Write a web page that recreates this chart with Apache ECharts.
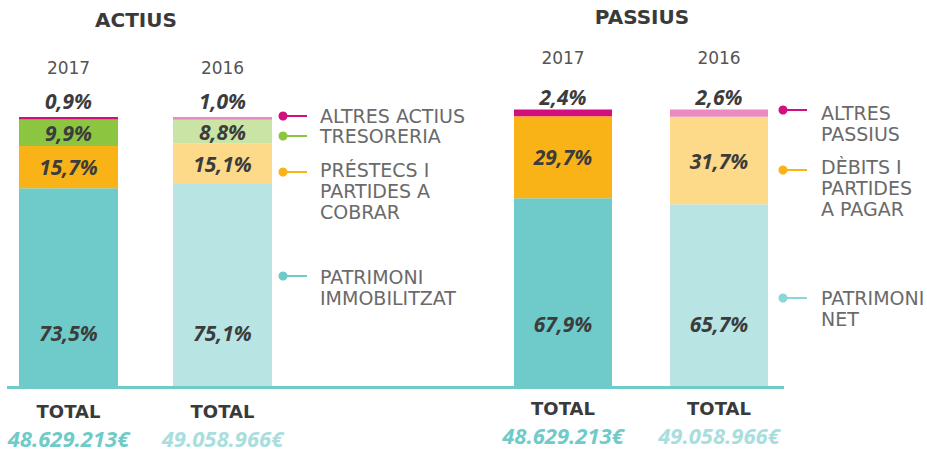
<!DOCTYPE html>
<html><head><meta charset="utf-8">
<script src="https://cdn.jsdelivr.net/npm/echarts@6/dist/echarts.min.js"></script>
<style>html,body{margin:0;padding:0;background:#fff}#c{width:927px;height:452px}</style>
</head><body><div id="c"></div>
<script>
// ---- data ----
const years = ['2017', '2016'];
const actiusTotals = ['48.629.213€', '49.058.966€'];
const passiusTotals = ['48.629.213€', '49.058.966€'];
const actiusPatrimoni = [73.5, 75.1];
const actiusPrestecs = [15.7, 15.1];
const actiusTresoreria = [9.9, 8.8];
const actiusAltres = [0.9, 1.0];
const passiusPatrimoni = [67.9, 65.7];
const passiusDebits = [29.7, 31.7];
const passiusAltres = [2.4, 2.6];
const actiusNames = ['PATRIMONI\nIMMOBILITZAT', 'PRÉSTECS I\nPARTIDES A\nCOBRAR', 'TRESORERIA', 'ALTRES ACTIUS'];
const passiusNames = ['PATRIMONI\nNET', 'DÈBITS I\nPARTIDES\nA PAGAR', 'ALTRES\nPASSIUS'];
const titles = ['ACTIUS', 'PASSIUS'];

// ---- styles ----
const C = {
  teal: ['#6ECBC9', '#B9E4E4'],
  orange: ['#F9B317', '#FDD98A'],
  green: ['#8CC641', '#C9E4A5'],
  pink: ['#D30F80', '#E98BC1']
};
const totalColors = ['#6ECBC9', '#A9DEDE'];
const pctFmt = p => p.value.toFixed(1).replace('.', ',') + '%';
const lblStyle = { fontFamily: 'Open Sans', fontStyle: 'italic', fontWeight: 'bold', fontSize: 21, color: '#3c3c3c', formatter: pctFmt };

function mk(vals, cols) { return vals.map((v, i) => ({ value: v, itemStyle: { color: cols[i] } })); }

function barSeries(name, vals, cols, grid, stack, label, bw) {
  return {
    type: 'bar', name: name, stack: stack, xAxisIndex: grid * 2 + 1, yAxisIndex: grid,
    barWidth: bw, data: mk(vals, cols),
    label: Object.assign({ show: true }, lblStyle, label),
    emphasis: { disabled: true }
  };
}

function yearAxis(grid, margin) {
  return {
    gridIndex: grid, type: 'category', data: years, position: 'top',
    axisLine: { show: false }, axisTick: { show: false },
    axisLabel: { margin: margin, fontFamily: 'DejaVu Sans', fontSize: 17, color: '#555' }
  };
}
function totalAxis(grid, totals, margin) {
  return {
    gridIndex: grid, type: 'category', data: years, position: 'bottom',
    axisLine: { show: false }, axisTick: { show: false },
    axisLabel: {
      margin: margin, interval: 0,
      formatter: (v, i) => '{t|TOTAL}\n{a' + i + '|' + totals[i] + '}',
      rich: {
        t: { fontFamily: 'DejaVu Sans', fontWeight: 'bold', fontSize: 18, color: '#3a3a3a', lineHeight: 30 },
        a0: { fontFamily: 'Open Sans', fontStyle: 'italic', fontWeight: 'bold', fontSize: 22, color: totalColors[0], lineHeight: 24 },
        a1: { fontFamily: 'Open Sans', fontStyle: 'italic', fontWeight: 'bold', fontSize: 22, color: totalColors[1], lineHeight: 24 }
      }
    }
  };
}

function legendItem(x, y, color, text, textX, textY) {
  return {
    type: 'group', children: [
      { type: 'line', shape: { x1: x, y1: y, x2: x + 24, y2: y }, style: { stroke: color, lineWidth: 2 } },
      { type: 'circle', shape: { cx: x, cy: y, r: 4.5 }, style: { fill: color } },
      { type: 'text', x: textX, y: (textY === undefined ? y : textY) - 10.5,
        style: { text: text, font: '19px "DejaVu Sans"', fill: '#6a6a6a', lineHeight: 21, verticalAlign: 'top', align: 'left' } }
    ]
  };
}

const chart = echarts.init(document.getElementById('c'), null, { renderer: 'svg' });
chart.setOption({
  animation: false,
  grid: [
    { left: -8.5, width: 308, top: 117, bottom: 66, outerBoundsMode: 'none', containLabel: false },
    { left: 485, width: 312, top: 109.5, bottom: 66, outerBoundsMode: 'none', containLabel: false }
  ],
  xAxis: [
    yearAxis(0, 41), totalAxis(0, actiusTotals, 10),
    yearAxis(1, 43), totalAxis(1, passiusTotals, 7)
  ],
  yAxis: [
    { gridIndex: 0, type: 'value', min: 0, max: 100, show: false },
    { gridIndex: 1, type: 'value', min: 0, max: 100, show: false }
  ],
  series: [
    barSeries(actiusNames[0], actiusPatrimoni, C.teal, 0, 'a', { position: 'insideBottom', distance: 43 }, 99),
    barSeries(actiusNames[1], actiusPrestecs, C.orange, 0, 'a', { position: 'inside' }, 99),
    barSeries(actiusNames[2], actiusTresoreria, C.green, 0, 'a', { position: 'inside' }, 99),
    barSeries(actiusNames[3], actiusAltres, C.pink, 0, 'a', { position: 'top', distance: 6 }, 99),
    barSeries(passiusNames[0], passiusPatrimoni, C.teal, 1, 'p', { position: 'insideBottom', distance: 52 }, 98),
    barSeries(passiusNames[1], passiusDebits, C.orange, 1, 'p', { position: 'inside' }, 98),
    barSeries(passiusNames[2], passiusAltres, C.pink, 1, 'p', { position: 'top', distance: 2 }, 98)
  ],
  graphic: [
    { type: 'line', shape: { x1: 7, y1: 387.5, x2: 784, y2: 387.5 }, style: { stroke: '#6ECBC9', lineWidth: 3 } },
    { type: 'text', x: 136, y: 20, style: { text: titles[0], font: 'bold 20px "DejaVu Sans"', fill: '#3a3a3a', align: 'center', verticalAlign: 'middle' } },
    { type: 'text', x: 642, y: 17, style: { text: titles[1], font: 'bold 20px "DejaVu Sans"', fill: '#3a3a3a', align: 'center', verticalAlign: 'middle' } },
    legendItem(283, 116, C.pink[0], actiusNames[3], 320),
    legendItem(283, 136, C.green[0], actiusNames[2], 320),
    legendItem(283, 172, C.orange[0], actiusNames[1], 320, 170),
    legendItem(283, 276, C.teal[0], actiusNames[0], 320, 277),
    legendItem(783, 110, C.pink[0], passiusNames[2], 821, 113),
    legendItem(783, 170, C.orange[0], passiusNames[1], 821, 167),
    legendItem(783, 298, '#8ED6D6', passiusNames[0], 821, 298)
  ]
});
</script>
</body></html>
